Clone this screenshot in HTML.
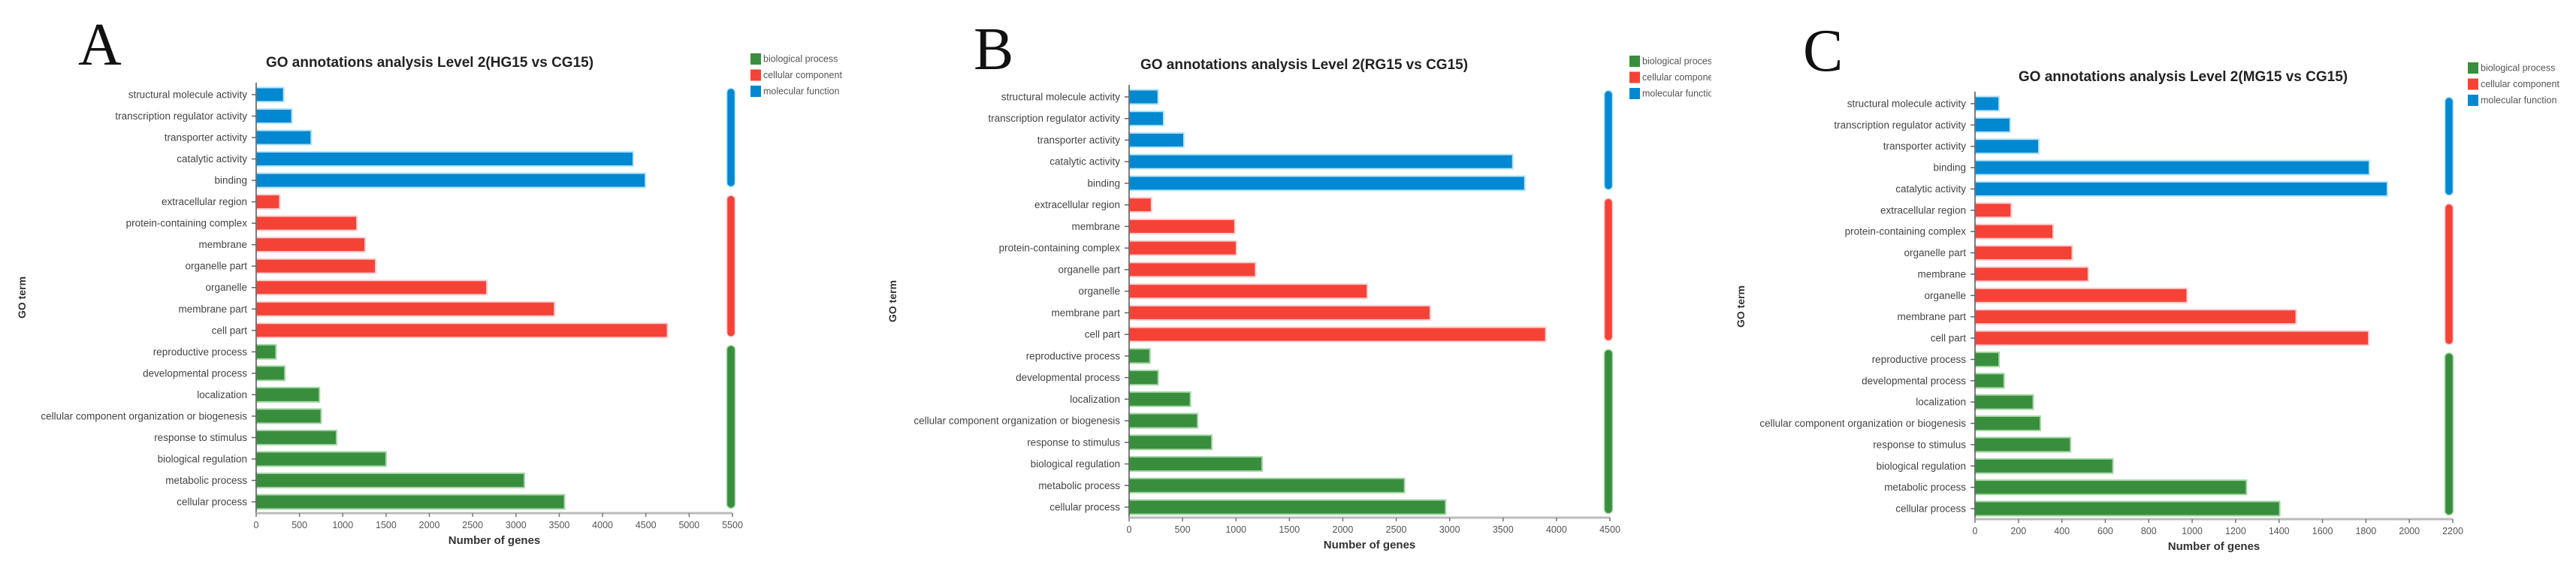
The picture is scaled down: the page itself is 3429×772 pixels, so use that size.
<!DOCTYPE html>
<html><head><meta charset="utf-8"><style>
html,body{margin:0;padding:0;background:#fff;}
svg{display:block;font-family:"Liberation Sans",Arial,sans-serif;}
</style></head><body>
<svg id="fig" width="3429" height="772" viewBox="0 0 3429 772" xmlns="http://www.w3.org/2000/svg"></svg>
<script>
// Panel A data
const termsA = ["structural molecule activity","transcription regulator activity","transporter activity","catalytic activity","binding","extracellular region","protein-containing complex","membrane","organelle part","organelle","membrane part","cell part","reproductive process","developmental process","localization","cellular component organization or biogenesis","response to stimulus","biological regulation","metabolic process","cellular process"];
const valuesA = [318,413,636,4355,4495,273,1164,1259,1380,2664,3446,4750,229,331,731,750,928,1500,3097,3561];
const groupsA = ["mf","mf","mf","mf","mf","cc","cc","cc","cc","cc","cc","cc","bp","bp","bp","bp","bp","bp","bp","bp"];
const ticksA = [0,500,1000,1500,2000,2500,3000,3500,4000,4500,5000,5500];
// Panel B data
const termsB = ["structural molecule activity","transcription regulator activity","transporter activity","catalytic activity","binding","extracellular region","membrane","protein-containing complex","organelle part","organelle","membrane part","cell part","reproductive process","developmental process","localization","cellular component organization or biogenesis","response to stimulus","biological regulation","metabolic process","cellular process"];
const valuesB = [272,323,513,3591,3704,210,990,1005,1184,2230,2819,3900,195,272,574,641,774,1245,2578,2962];
const groupsB = groupsA;
const ticksB = [0,500,1000,1500,2000,2500,3000,3500,4000,4500];
// Panel C data
const termsC = ["structural molecule activity","transcription regulator activity","transporter activity","binding","catalytic activity","extracellular region","protein-containing complex","organelle part","membrane","organelle","membrane part","cell part","reproductive process","developmental process","localization","cellular component organization or biogenesis","response to stimulus","biological regulation","metabolic process","cellular process"];
const valuesC = [111,162,294,1816,1899,167,360,448,522,977,1479,1813,111,134,268,301,440,635,1250,1403];
const groupsC = groupsA;
const ticksC = [0,200,400,600,800,1000,1200,1400,1600,1800,2000,2200];
const legendLabelsA = ["biological process","cellular component","molecular function"];

const NS="http://www.w3.org/2000/svg";
const svg=document.getElementById('fig');
const COL={bp:"#388e3c",cc:"#f44336",mf:"#0288d1"};
const EDGE={bp:"#a5d6a7",cc:"#ffcdd2",mf:"#b3e5fc"};
function mk(tag,attrs,parent){const e=document.createElementNS(NS,tag);for(const k in attrs)e.setAttribute(k,attrs[k]);(parent||svg).appendChild(e);return e;}

function panel(cfg){
  const g=mk('g',{});
  
  
  const max=cfg.ticks[cfg.ticks.length-1];
  const xs=v=>cfg.x0+(v/max)*(cfg.x1-cfg.x0);
  const n=cfg.terms.length;
  const ys=i=>cfg.yTop+i*(cfg.yBot-cfg.yTop)/(n-1);
  const bh=19;
  const L=mk('text',{x:cfg.lx,y:cfg.ly,'font-family':'"Liberation Serif",serif','font-size':80,fill:'#111'},g);
  L.textContent=cfg.id;
  
  
  const T=mk('text',{x:cfg.tx,y:cfg.ty,'text-anchor':'middle','font-size':19,'font-weight':'bold',fill:'#222'},g);
  T.textContent=cfg.title;
  
  
  for(let i=0;i<n;i++){
    const y=ys(i);const gr=cfg.groups[i];
    const r=mk('rect',{x:cfg.x0,y:y-bh/2,width:xs(cfg.values[i])-cfg.x0,height:bh,fill:COL[gr],stroke:EDGE[gr],'stroke-width':2},g);
    
    
    const lb=mk('text',{x:cfg.x0-12,y:y+4.5,'text-anchor':'end','font-size':13.5,fill:'#444'},g);
    lb.textContent=cfg.terms[i];
    
    
    const tk=mk('line',{x1:cfg.x0-6,x2:cfg.x0,y1:y,y2:y,stroke:'#666','stroke-width':1.5},g);
    
    
  }
  const ya=mk('line',{x1:cfg.x0,x2:cfg.x0,y1:cfg.yTop-16,y2:cfg.axY,stroke:'#555','stroke-width':1.5},g);
  
  
  const xa=mk('line',{x1:cfg.x0,x2:cfg.x1,y1:cfg.axY,y2:cfg.axY,stroke:'#bbb','stroke-width':3},g);
  
  
  cfg.ticks.forEach(t=>{
    const tl=mk('line',{x1:xs(t),x2:xs(t),y1:cfg.axY,y2:cfg.axY+5,stroke:'#777','stroke-width':1.5},g);
    
    
    const tt=mk('text',{x:xs(t),y:cfg.axY+20,'text-anchor':'middle','font-size':12.5,fill:'#555'},g);
    tt.textContent=t;
    
    
  });
  const xl=mk('text',{x:(cfg.x0+cfg.x1)/2,y:cfg.axY+41,'text-anchor':'middle','font-size':15,'font-weight':'bold',fill:'#333'},g);
  xl.textContent='Number of genes';
  
  
  const yl=mk('text',{x:0,y:0,'text-anchor':'middle','font-size':14,'font-weight':'bold',fill:'#333',transform:`translate(${cfg.gx+5},${cfg.gy}) rotate(-90)`},g);
  yl.textContent='GO term';
  
  
  ['mf','cc','bp'].forEach(k=>{
    let a=-1,b=-1;cfg.groups.forEach((gg,i)=>{if(gg===k){if(a<0)a=i;b=i;}});
    const top=ys(a)-bh/2+1,bot=ys(b)+bh/2;
    const gb=mk('rect',{x:cfg.gbx-5.5,y:top,width:11,height:bot-top-1,rx:5.5,fill:COL[k],stroke:EDGE[k],'stroke-width':1.5},g);
    
    
  });
  const lg=mk('g',{},g);
  
  
  if(cfg.clip){const cp=mk('clipPath',{id:'clip'+cfg.id},lg);mk('rect',{x:cfg.lgx,y:0,width:cfg.clip-cfg.lgx,height:200},cp);}
  ['bp','cc','mf'].forEach((k,i)=>{
    const y=cfg.lgy+i*21.5;
    const s=mk('rect',{x:cfg.lgx,y:y-7,width:14,height:15,fill:COL[k]},lg);
    
    
    const t=mk('text',{x:cfg.lgx+17,y:y+4.5,'font-size':12.5,fill:'#555'},lg);
    if(cfg.clip)t.setAttribute('clip-path','url(#clip'+cfg.id+')');
    t.textContent=cfg.legend[i];
    
    
  });
}

panel({id:'A',terms:termsA,values:valuesA,groups:groupsA,ticks:ticksA,x0:341,x1:975,yTop:126,yBot:668,axY:683,
  lx:104,ly:86,tx:572,ty:89,title:'GO annotations analysis Level 2(HG15 vs CG15)',gx:29,gy:396,gbx:973,lgx:999,lgy:78,legend:legendLabelsA});
panel({id:'B',terms:termsB,values:valuesB,groups:groupsB,ticks:ticksB,x0:1503,x1:2143,yTop:129,yBot:675,axY:689,
  lx:1296,ly:92,tx:1736,ty:92,title:'GO annotations analysis Level 2(RG15 vs CG15)',gx:1188,gy:401,gbx:2141,lgx:2169,lgy:81,legend:legendLabelsA,clip:2278});
panel({id:'C',terms:termsC,values:valuesC,groups:groupsC,ticks:ticksC,x0:2629,x1:3265,yTop:138,yBot:677,axY:691,
  lx:2400,ly:94,tx:2906,ty:108,title:'GO annotations analysis Level 2(MG15 vs CG15)',gx:2317,gy:408,gbx:3260,lgx:3285,lgy:90,legend:legendLabelsA});
</script>
</body></html>
